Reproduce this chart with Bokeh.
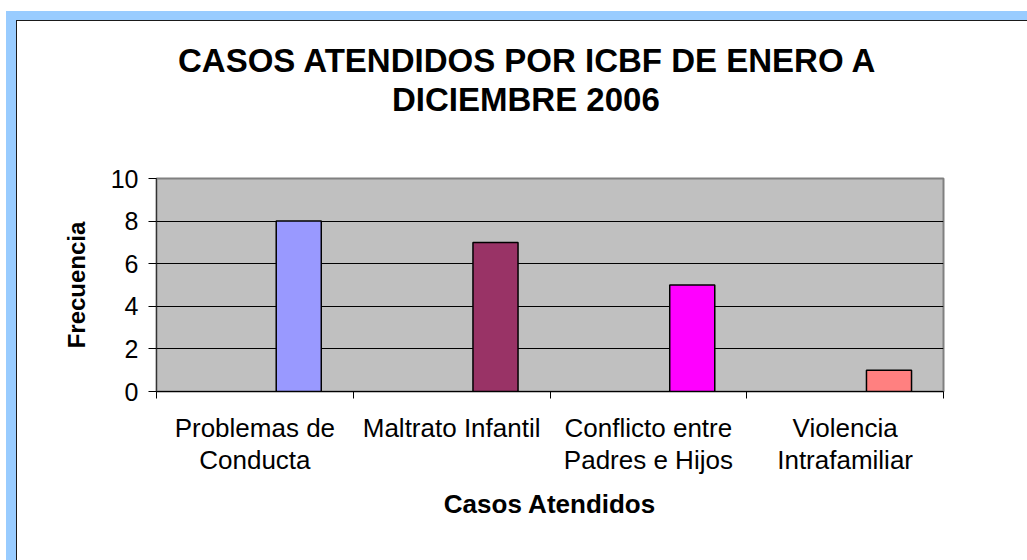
from bokeh.plotting import figure
from bokeh.models import FixedTicker, Title, ColumnDataSource
from bokeh.embed import file_html
from bokeh.resources import INLINE

# ---- data ----
title_lines = ["CASOS ATENDIDOS POR ICBF DE ENERO A", "DICIEMBRE 2006"]
categories = ["Problemas de\nConducta", "Maltrato Infantil",
              "Conflicto entre\nPadres e Hijos", "Violencia\nIntrafamiliar"]
frecuencia = [8, 7, 5, 1]
bar_colors = ["#9999FF", "#993366", "#FF00FF", "#FF8080"]
y_ticks = [0, 2, 4, 6, 8, 10]
x_label = "Casos Atendidos"
y_label = "Frecuencia"

# ---- style ----
FONT = "Liberation Sans"
BAR_OFFSET = 0.723
BAR_WIDTH = 0.229
W, H = 1010, 539
n = len(categories)

src = ColumnDataSource(dict(x=[i + BAR_OFFSET for i in range(n)],
                            top=frecuencia, color=bar_colors))

p = figure(width=W, height=H, x_range=(0, n), y_range=(0, y_ticks[-1]),
           output_backend="svg", toolbar_location=None, tools="")
p.margin = (21, 0, 0, 17)
p.styles = {"box-shadow": "0 0 0 1px #1a1a1a, -1px 0 0 10px #99CCFF"}
p.min_border_left = 139
p.min_border_right = W - 139 - 787
p.min_border_top = 157
p.min_border_bottom = H - 157 - 213
p.background_fill_color = "#C0C0C0"
p.border_fill_color = "white"
p.outline_line_color = "#808080"
p.outline_line_width = 2

p.vbar(x="x", top="top", width=BAR_WIDTH, bottom=0, source=src,
       fill_color="color", line_color="black", line_width=1.5)

# x axis
xa = p.xaxis[0]
xa.ticker = FixedTicker(ticks=[i + 0.5 for i in range(n)],
                        minor_ticks=list(range(n + 1)))
xa.major_label_overrides = {i + 0.5: categories[i] for i in range(n)}
xa.major_tick_out = 0
xa.major_tick_in = 0
xa.minor_tick_out = 7
xa.minor_tick_in = 0
xa.minor_tick_line_color = "black"
xa.minor_tick_line_width = 1
xa.axis_line_color = "black"
xa.axis_line_width = 1
xa.major_label_text_font = FONT
xa.major_label_text_font_size = "26px"
xa.major_label_text_color = "black"
xa.major_label_text_line_height = 1.07
xa.major_label_standoff = 14
xa.axis_label = x_label
xa.axis_label_text_font = FONT
xa.axis_label_text_font_style = "bold"
xa.axis_label_text_font_size = "26px"
xa.axis_label_text_color = "black"
xa.axis_label_standoff = 11

# y axis
ya = p.yaxis[0]
ya.ticker = FixedTicker(ticks=y_ticks)
ya.major_tick_out = 8
ya.major_tick_in = 0
ya.major_tick_line_color = "black"
ya.minor_tick_line_color = None
ya.axis_line_color = "#333333"
ya.axis_line_width = 1
ya.major_label_text_font = FONT
ya.major_label_text_font_size = "25px"
ya.major_label_text_color = "black"
ya.major_label_standoff = 10
ya.axis_label = y_label
ya.axis_label_text_font = FONT
ya.axis_label_text_font_style = "bold"
ya.axis_label_text_font_size = "24px"
ya.axis_label_text_color = "black"
ya.axis_label_standoff = 18

p.xgrid.visible = False
p.ygrid.ticker = FixedTicker(ticks=y_ticks[1:-1])
p.ygrid.grid_line_color = "black"
p.ygrid.grid_line_width = 1

# spacer between frame and title block
p.add_layout(Title(text=" ", standoff=58, text_font_size="1px"), "above")
# title (two lines): nearest-to-frame first
title_offsets = [21.5, 235.5]
for line, off in reversed(list(zip(title_lines, title_offsets))):
    p.add_layout(Title(text=line, align="left", offset=off, standoff=0,
                       text_font=FONT, text_font_style="bold",
                       text_font_size="33px", text_color="black"), "above")

open("out.html", "w").write(file_html(p, INLINE))
